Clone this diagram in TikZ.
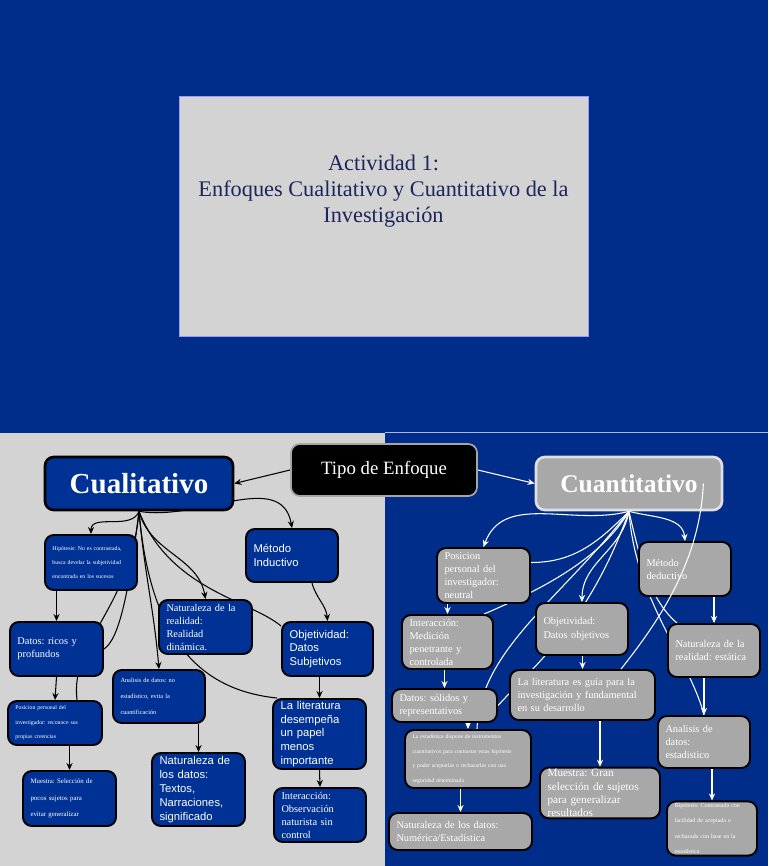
\documentclass[tikz,border=0pt]{standalone}
\usepackage{fontspec}
\setmainfont{Liberation Serif}
\setsansfont{Liberation Sans}
\usetikzlibrary{arrows.meta, backgrounds}
\pgfdeclarelayer{links}
\pgfsetlayers{background,links,main}
\frenchspacing

\definecolor{bgblue}{RGB}{0,45,138}
\definecolor{boxblue}{RGB}{0,50,150}
\definecolor{panelgray}{RGB}{211,211,211}
\definecolor{boxgray}{RGB}{168,168,168}
\definecolor{titlenavy}{RGB}{28,38,92}

\tikzset{
  lbox/.style={draw=black, line width=1.1pt, rounded corners=5pt, fill=boxblue,
               text=white, align=left, inner xsep=1.5mm, inner ysep=1pt},
  rbox/.style={lbox, fill=boxgray},
  txt/.style={font=\fontsize{5.9}{7.4}\selectfont},
  stxt/.style={font=\sffamily\fontsize{6.4}{7.9}\selectfont},
  mini/.style 2 args={font=\fontsize{#1}{#2}\selectfont},
  link/.style={draw=black, line width=0.6pt},
  arr/.style={link, -{Stealth[length=4pt, width=3.5pt]}},
  wlink/.style={draw=white, line width=0.6pt},
  warr/.style={wlink, -{Stealth[length=4pt, width=3.5pt]}}
}

\begin{document}
\begin{tikzpicture}[x=0.2mm, y=-0.2mm]
  % Slide backgrounds
  \begin{scope}[on background layer]
    \fill[bgblue] (0,0) rectangle (768,866);
    \fill[panelgray] (0,433) rectangle (385,866);
    \draw[blue!30!white, line width=0.8pt] (385,432.5) -- (768,432.5);
    \filldraw[fill=panelgray, draw=blue!40!white, line width=0.4pt] (179,96) rectangle (588,336);
  \end{scope}
  \node[text=titlenavy, align=center, font=\fontsize{12.7}{14.8}\selectfont] (title) at (383.5,191)
    {Actividad 1:\\ Enfoques Cualitativo y Cuantitativo de la\\ Investigación};

  % Top row
  \node[draw=gray!70, line width=1pt, fill=black, rounded corners=5pt, text=white,
        minimum width=37.2mm, minimum height=10.4mm, font=\fontsize{10.7}{12}\selectfont]
        (tipo) at (384,470) {Tipo de Enfoque};
  \node[lbox, line width=1.5pt, align=center, minimum width=37.6mm, minimum height=10.6mm,
        font=\bfseries\fontsize{16.5}{18}\selectfont] (cual) at (139,483.5) {Cualitativo};
  \node[rbox, draw=white!88!black, line width=1.5pt, align=center, minimum width=37.2mm,
        minimum height=10.6mm, font=\bfseries\fontsize{14.5}{16}\selectfont] (cuan) at (629,483.5) {Cuantitativo};

  % Cualitativo branch
  \node[lbox, mini={3.3}{8}, text width=15.4mm, minimum height=11mm] (hipL) at (91,562.5)
    {Hipótesis: No es contrastada,\\ busca develar la subjetividad\\ encontrada en los sucesos};
  \node[lbox, stxt, text width=15.4mm, minimum height=10.6mm] (metL) at (292,555.5) {Método\\ Inductivo};
  \node[lbox, txt, text width=15.6mm, minimum height=10.8mm] (natL) at (205.5,627)
    {Naturaleza de la\\ realidad:\\ Realidad\\ dinámica.};
  \node[lbox, txt, text width=15.6mm, minimum height=10.8mm] (datL) at (56.5,649) {Datos: ricos y\\ profundos};
  \node[lbox, stxt, text width=15.2mm, minimum height=10.8mm] (objL) at (327.5,649) {Objetividad:\\ Datos\\ Subjetivos};
  \node[lbox, mini={3.6}{9.2}, text width=15.4mm, minimum height=10.6mm] (anaL) at (159,696.5)
    {Analisis de datos: no\\ estadístico, evita la\\ cuantificación};
  \node[lbox, mini={3.3}{8.3}, text width=15.8mm, minimum height=8.8mm] (posL) at (55,723)
    {Posicion personal del\\ investigador: reconoce sus\\ propias creencias};
  \node[lbox, stxt, text width=15.6mm, minimum height=14mm] (litL) at (319.5,734)
    {La literatura\\ desempeña\\ un papel\\ menos\\ importante};
  \node[lbox, stxt, text width=15.6mm, minimum height=14.6mm] (ndaL) at (198.5,789.5)
    {Naturaleza de\\ los datos:\\ Textos,\\ Narraciones,\\ significado};
  \node[lbox, mini={3.9}{9.3}, text width=15.6mm, minimum height=11mm] (muL) at (69.5,798.5)
    {Muestra: Selección de\\ pocos sujetos para\\ evitar generalizar};
  \node[lbox, txt, text width=15.4mm, minimum height=10.8mm] (intL) at (320,815)
    {Interacción:\\ Observación\\ naturista sin\\ control};

  % Cuantitativo branch
  \node[rbox, txt, text width=15.6mm, minimum height=11mm] (posR) at (483.5,575.5)
    {Posicion\\ personal del\\ investigador:\\ neutral};
  \node[rbox, txt, text width=15.4mm, minimum height=10.8mm] (metR) at (685,569) {Método\\ deductivo};
  \node[rbox, txt, text width=15.2mm, minimum height=10.8mm] (intR) at (447.5,642)
    {Interacción:\\ Medición\\ penetrante y\\ controlada};
  \node[rbox, txt, text width=15.4mm, minimum height=10.4mm] (objR) at (582,629) {Objetividad:\\ Datos objetivos};
  \node[rbox, txt, text width=15.4mm, minimum height=10.6mm] (natR) at (714,650.5) {Naturaleza de la\\ realidad: estática};
  \node[rbox, txt, text width=18mm, minimum height=6.6mm] (datR) at (444.5,705.5) {Datos: sólidos y\\ representativos};
  \node[rbox, txt, text width=26mm, minimum height=10mm] (litR) at (582.5,695)
    {La literatura es guía para la\\ investigación y fundamental\\ en su desarrollo};
  \node[rbox, txt, text width=15.4mm, minimum height=10.4mm] (anaR) at (704,742) {Analisis de\\ datos:\\ estadistico};
  \node[rbox, mini={3.2}{8.3}, text width=22.2mm, minimum height=11.6mm] (estR) at (468,759)
    {La estadística dispone de instrumentos\\ cuantitativos para contrastar estas hipótesis\\ y poder aceptarlas o rechazarlas con una\\ seguridad determinada};
  \node[rbox, mini={6.4}{7.5}, text width=21mm, minimum height=10mm] (muR) at (600,793)
    {Muestra: Gran\\ selección de sujetos\\ para generalizar\\ resultados};
  \node[rbox, txt, text width=25.6mm, minimum height=7.4mm] (ndaR) at (460.5,831.5)
    {Naturaleza de los datos:\\ Numérica/Estadística};
  \node[rbox, mini={3.4}{8.8}, text width=15mm, minimum height=10.6mm] (hipR) at (712,828.5)
    {Hipótesis: Contrastada con\\ facilidad de aceptada o\\ rechazada con base en la\\ estadística};

  % Connectors
  \begin{pgfonlayer}{links}
    \draw[arr] (tipo.west) -- (cual.east);
    \draw[warr] (tipo.east) -- (cuan.west);
    % qualitative side
    \draw[arr] (cual.south) to[out=250, in=90] (hipL.north);
    \draw[arr] (cual.south) to[out=-10, in=100] (metL.north);
    \draw[arr] (cual.south) to[out=-75, in=100] (natL.north);
    \draw[arr] (cual.south) to[out=-85, in=95] (anaL.north);
    \draw[link] (cual.south) .. controls (128,600) and (118,640) .. (datL.east);
    \draw[link] (cual.south) .. controls (130,610) and (70,640) .. ([xshift=4.4mm]posL.north);
    \draw[link] (cual.south) .. controls (170,590) and (250,600) .. ([yshift=4.6mm]objL.west);
    \draw[link] (cual.south) .. controls (150,640) and (200,690) .. ([xshift=1mm]litL.north west);
    \draw[arr] (hipL.south -| datL.north) -- (datL.north);
    \draw[arr] (datL.south) -- (posL.north);
    \draw[arr] (posL.south -| muL.north) -- (muL.north);
    \draw[arr] (anaL.south -| ndaL.north) -- (ndaL.north);
    \draw[arr] ([xshift=4mm]metL.south) to[out=-75, in=95] (objL.north);
    \draw[arr] (objL.south -| litL.north) -- (litL.north);
    \draw[arr] (litL.south) -- (intL.north);
    % quantitative side
    \draw[warr] (cuan.south) to[out=195, in=70] (posR.north);
    \draw[warr] (cuan.south) to[out=-15, in=95] (metR.north);
    \draw[warr] (cuan.south) to[out=-100, in=90] (objR.north);
    \draw[wlink] (cuan.south) to[out=225, in=0] ([yshift=2.6mm]posR.east);
    \draw[wlink] (cuan.south) .. controls (600,560) and (540,590) .. ([xshift=-2mm]intR.north east);
    \draw[wlink] (cuan.south) .. controls (560,600) and (480,650) .. ([xshift=1.8mm]estR.north);
    \draw[wlink] (cuan.south) .. controls (590,620) and (540,660) .. (datR.east);
    \draw[wlink] (cuan.south) .. controls (640,560) and (650,600) .. ([xshift=2mm]natR.north west);
    \draw[wlink] (cuan.south) .. controls (635,600) and (690,660) .. (anaR.north);
    \draw[warr] (posR.south -| intR.north) -- (intR.north);
    \draw[warr] (metR.south -| natR.north) -- (natR.north);
    \draw[warr] (objR.south -| litR.north) -- (litR.north);
    \draw[warr] (intR.south -| datR.north) -- (datR.north);
    \draw[warr] (datR.south -| estR.north) -- (estR.north);
    \draw[warr] (estR.south -| ndaR.north) -- (ndaR.north);
    \draw[warr] (litR.south -| muR.north) -- (muR.north);
    \draw[warr] (natR.south -| anaR.north) -- (anaR.north);
    \draw[warr] (anaR.south -| hipR.north) -- (hipR.north);
  \end{pgfonlayer}
  \draw[wlink] ([xshift=-4mm]cuan.east) .. controls (700,560) and (660,620) .. ([xshift=-7mm]litR.north east);
\end{tikzpicture}
\end{document}
